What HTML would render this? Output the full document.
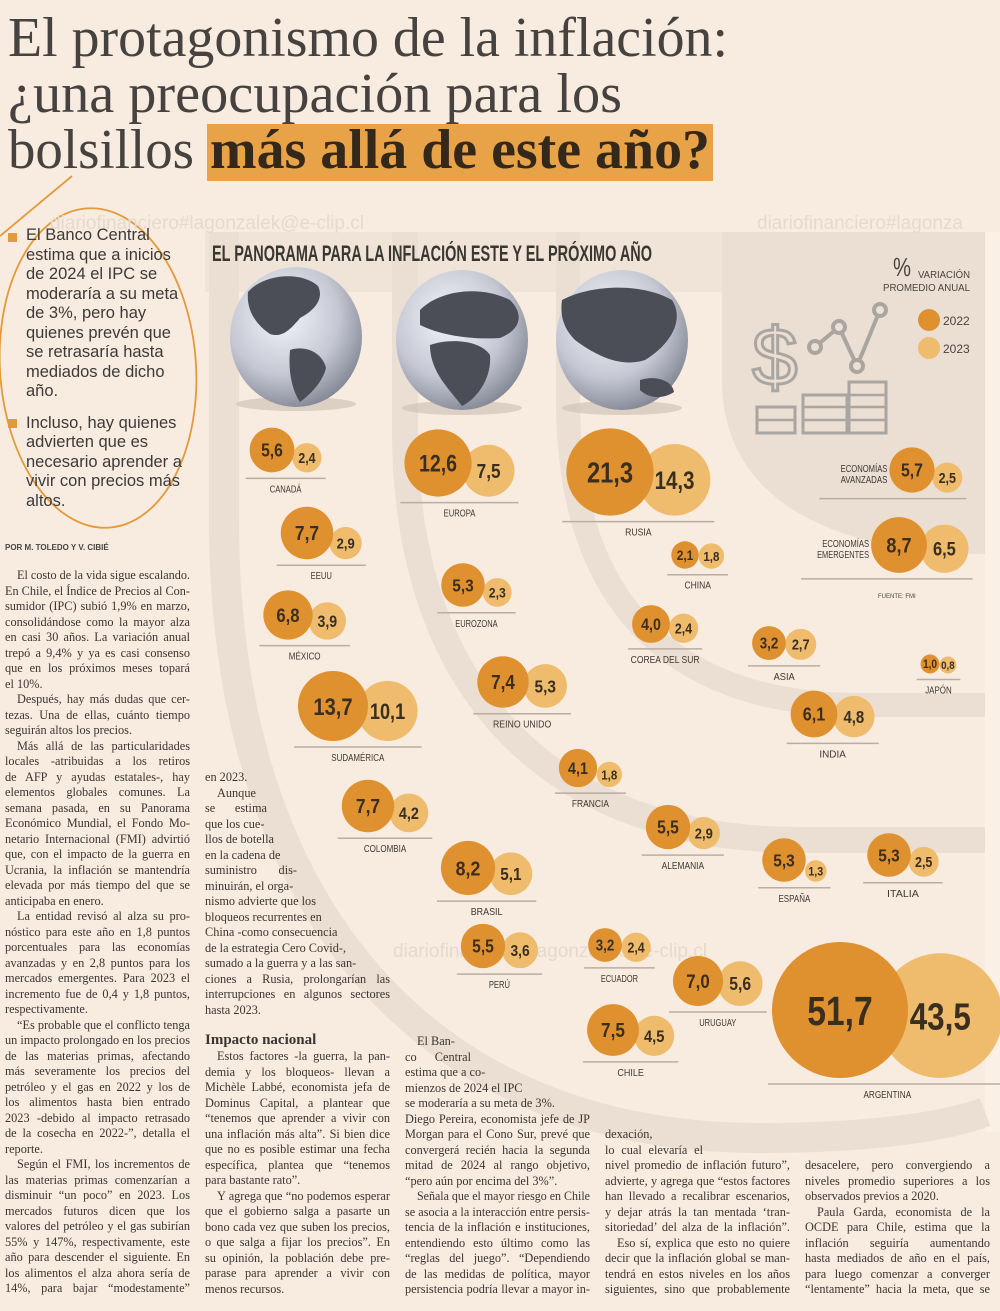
<!DOCTYPE html>
<html><head><meta charset="utf-8">
<style>
html,body{margin:0;padding:0;background:#f8ebe0;}
#page{position:relative;width:1000px;height:1311px;overflow:hidden;background:#f8ebe0;}
svg{position:absolute;left:0;top:0;}
.col{position:absolute;font:12.3px/15.5px "Liberation Serif",serif;color:#3b3632;}
.l{height:15.5px;white-space:nowrap;}
.l span{display:inline-block;transform-origin:0 0;}
.side{position:absolute;left:26px;top:226px;font:16.5px/19.5px "Liberation Sans",sans-serif;color:#3d3a38;}
.side .s{white-space:nowrap;height:19.5px;}
</style></head><body>
<div id="page">
<svg id="chart" width="1000" height="1311" viewBox="0 0 1000 1311">
  <g font-family="Liberation Serif, serif" fill="#45423f">
    <text x="8" y="56" font-size="56" textLength="720" lengthAdjust="spacingAndGlyphs">El protagonismo de la inflación:</text>
    <text x="8" y="112" font-size="56" textLength="614" lengthAdjust="spacingAndGlyphs">¿una preocupación para los</text>
    <text x="8" y="168" font-size="56" textLength="186" lengthAdjust="spacingAndGlyphs">bolsillos</text>
    <rect x="207" y="124" width="506" height="57" fill="#e8a349"/>
    <text x="210" y="168" font-size="56" font-weight="bold" fill="#33281a" textLength="500" lengthAdjust="spacingAndGlyphs">más allá de este año?</text>
  </g>
  <ellipse cx="98" cy="368" rx="98" ry="160" transform="rotate(-4 98 368)" fill="none" stroke="#e39a3a" stroke-width="1.8"/>
  <line x1="72" y1="176" x2="0" y2="236" stroke="#e39a3a" stroke-width="1.8"/>
  <rect x="8" y="233" width="9" height="9" fill="#e39a3a"/>
  <rect x="8" y="419" width="9" height="9" fill="#e39a3a"/>
  <text x="5" y="550" font-family="Liberation Sans, sans-serif" font-size="8" font-weight="bold" fill="#4a4541">POR M. TOLEDO Y V. CIBIÉ</text>

  <g>
    <rect x="205" y="232" width="780" height="60" fill="#f0e4d9"/>
    <rect x="985" y="232" width="15" height="900" fill="#faf0e6"/>
    <path d="M722 232 L722 380 C722 480 800 552 985 554 L985 232 Z" fill="#ebded2"/>
    <path d="M568 232 L568 400 C568 620 690 705 860 705 L985 705" fill="none" stroke="#ebded2" stroke-width="24"/>
    <path d="M405 232 L405 430 C405 700 560 840 800 840 L985 840" fill="none" stroke="#ebded2" stroke-width="26"/>
    <path d="M224 232 L224 520 C224 900 420 1138 760 1138 C880 1138 950 1125 985 1112" fill="none" stroke="#ebded2" stroke-width="30"/>
  </g>
  <g font-family="Liberation Sans, sans-serif" fill="#e6dace" font-size="19">
    <text x="50" y="229">diariofinanciero#lagonzalek@e-clip.cl</text>
    <text x="757" y="229">diariofinanciero#lagonza</text>
    <text x="393" y="957">diariofinanciero#lagonzalek@e-clip.cl</text>
  </g>
  <text x="212" y="261" font-family="Liberation Sans Narrow, Liberation Sans, sans-serif" font-weight="bold" font-size="22" fill="#3a3630" textLength="440" lengthAdjust="spacingAndGlyphs">EL PANORAMA PARA LA INFLACIÓN ESTE Y EL PRÓXIMO AÑO</text>

  <defs>
    <radialGradient id="gl" cx="0.4" cy="0.35" r="0.7">
      <stop offset="0" stop-color="#f4f5fa"/><stop offset="0.6" stop-color="#c5c8d3"/><stop offset="1" stop-color="#7f8391"/>
    </radialGradient>
  </defs>
  <g>
    <ellipse cx="296" cy="404" rx="60" ry="7" fill="#c9bcb0" opacity="0.6"/>
    <ellipse cx="296" cy="337" rx="66" ry="70" fill="url(#gl)"/>
    <path d="M248 292 C262 275 300 270 318 286 C325 300 312 312 300 318 C290 330 282 338 270 334 C258 326 246 312 248 292Z" fill="#4b4e57"/>
    <path d="M290 350 C305 345 322 352 326 368 C322 384 308 396 300 402 C292 390 288 372 290 350Z" fill="#4b4e57"/>
  </g>
  <g>
    <ellipse cx="462" cy="408" rx="60" ry="7" fill="#c9bcb0" opacity="0.6"/>
    <ellipse cx="462" cy="340" rx="66" ry="70" fill="url(#gl)"/>
    <path d="M420 310 C440 290 480 285 510 300 C525 315 520 330 500 338 C470 340 440 335 420 325Z" fill="#4b4e57"/>
    <path d="M430 345 C450 338 480 340 490 355 C492 380 475 400 462 406 C450 390 430 372 430 345Z" fill="#4b4e57"/>
  </g>
  <g>
    <ellipse cx="622" cy="408" rx="60" ry="7" fill="#c9bcb0" opacity="0.6"/>
    <ellipse cx="622" cy="340" rx="66" ry="70" fill="url(#gl)"/>
    <path d="M562 300 C590 285 640 282 672 300 C685 320 670 345 645 360 C620 368 595 355 575 340 C563 328 560 315 562 300Z" fill="#4b4e57"/>
    <path d="M640 380 C655 375 672 380 674 392 C662 400 648 398 640 390Z" fill="#4b4e57"/>
  </g>

  <g font-family="Liberation Sans Narrow, Liberation Sans, sans-serif" fill="#4a4541">
    <text x="893" y="276" font-size="26" textLength="18" lengthAdjust="spacingAndGlyphs">%</text>
    <text x="918" y="278" font-size="10.5" textLength="52" lengthAdjust="spacingAndGlyphs">VARIACIÓN</text>
    <text x="883" y="291" font-size="10.5" textLength="87" lengthAdjust="spacingAndGlyphs">PROMEDIO ANUAL</text>
    <circle cx="929" cy="320" r="11" fill="#e0912f"/>
    <text x="943" y="325" font-size="12">2022</text>
    <circle cx="929" cy="348" r="11" fill="#efbb6c"/>
    <text x="943" y="353" font-size="12">2023</text>
  </g>
  <g fill="none" stroke="#a9a6a2" stroke-width="4">
    <text x="752" y="385" font-family="Liberation Sans, sans-serif" font-size="82" fill="none" stroke="#a9a6a2" stroke-width="3">$</text>
    <polyline points="815,347 839,327 857,366 880,310"/>
    <circle cx="815" cy="347" r="6" fill="#ecdfd3"/><circle cx="839" cy="327" r="6" fill="#ecdfd3"/>
    <circle cx="857" cy="366" r="6" fill="#ecdfd3"/><circle cx="880" cy="310" r="6" fill="#ecdfd3"/>
    <rect x="757" y="407" width="38" height="26" stroke-width="3"/>
    <rect x="803" y="395" width="44" height="38" stroke-width="3"/>
    <rect x="849" y="382" width="37" height="51" stroke-width="3"/>
    <path d="M757 420 H795 M803 407 H847 M803 420 H847 M849 395 H886 M849 407 H886 M849 420 H886" stroke-width="2.5"/>
  </g>
  <text x="878" y="598" font-family="Liberation Sans, sans-serif" font-size="6" fill="#4a4541">FUENTE: FMI</text>
  <g id="bubbles"></g>
</svg>

<div class="side">
  <div class="s">El Banco Central</div><div class="s">estima que a inicios</div><div class="s">de 2024 el IPC se</div><div class="s">moderaría a su meta</div><div class="s">de 3%, pero hay</div><div class="s">quienes prevén que</div><div class="s">se retrasaría hasta</div><div class="s">mediados de dicho</div><div class="s">año.</div>
  <div style="height:12px"></div>
  <div class="s">Incluso, hay quienes</div><div class="s">advierten que es</div><div class="s">necesario aprender a</div><div class="s">vivir con precios más</div><div class="s">altos.</div>
</div>

<div class="col" style="left:5px;top:568px;width:185px">
<div class="l i">El costo de la vida sigue escalando.</div>
<div class="l">En Chile, el Índice de Precios al Con-</div>
<div class="l">sumidor (IPC) subió 1,9% en marzo,</div>
<div class="l">consolidándose como la mayor alza</div>
<div class="l">en casi 30 años. La variación anual</div>
<div class="l">trepó a 9,4% y ya es casi consenso</div>
<div class="l">que en los próximos meses topará</div>
<div class="l e">el 10%.</div>
<div class="l i">Después, hay más dudas que cer-</div>
<div class="l">tezas. Una de ellas, cuánto tiempo</div>
<div class="l e">seguirán altos los precios.</div>
<div class="l i">Más allá de las particularidades</div>
<div class="l">locales -atribuidas a los retiros</div>
<div class="l">de AFP y ayudas estatales-, hay</div>
<div class="l">elementos globales comunes. La</div>
<div class="l">semana pasada, en su Panorama</div>
<div class="l">Económico Mundial, el Fondo Mo-</div>
<div class="l">netario Internacional (FMI) advirtió</div>
<div class="l">que, con el impacto de la guerra en</div>
<div class="l">Ucrania, la inflación se mantendría</div>
<div class="l">elevada por más tiempo del que se</div>
<div class="l e">anticipaba en enero.</div>
<div class="l i">La entidad revisó al alza su pro-</div>
<div class="l">nóstico para este año en 1,8 puntos</div>
<div class="l">porcentuales para las economías</div>
<div class="l">avanzadas y en 2,8 puntos para los</div>
<div class="l">mercados emergentes. Para 2023 el</div>
<div class="l">incremento fue de 0,4 y 1,8 puntos,</div>
<div class="l e">respectivamente.</div>
<div class="l i">“Es probable que el conflicto tenga</div>
<div class="l">un impacto prolongado en los precios</div>
<div class="l">de las materias primas, afectando</div>
<div class="l">más severamente los precios del</div>
<div class="l">petróleo y el gas en 2022 y los de</div>
<div class="l">los alimentos hasta bien entrado</div>
<div class="l">2023 -debido al impacto retrasado</div>
<div class="l">de la cosecha en 2022-”, detalla el</div>
<div class="l e">reporte.</div>
<div class="l i">Según el FMI, los incrementos de</div>
<div class="l">las materias primas comenzarían a</div>
<div class="l">disminuir “un poco” en 2023. Los</div>
<div class="l">mercados futuros dicen que los</div>
<div class="l">valores del petróleo y el gas subirían</div>
<div class="l">55% y 147%, respectivamente, este</div>
<div class="l">año para descender el siguiente. En</div>
<div class="l">los alimentos el alza ahora sería de</div>
<div class="l">14%, para bajar “modestamente”</div>
</div>

<div class="col" style="left:205px;top:770px;width:185px">
<div class="l e">en 2023.</div>
<div class="l e i">Aunque</div>
<div class="l" style="width:62px">se estima</div>
<div class="l e">que los cue-</div>
<div class="l e">llos de botella</div>
<div class="l e">en la cadena de</div>
<div class="l" style="width:92px">suministro dis-</div>
<div class="l e">minuirán, el orga-</div>
<div class="l e">nismo advierte que los</div>
<div class="l e">bloqueos recurrentes en</div>
<div class="l e">China -como consecuencia</div>
<div class="l e">de la estrategia Cero Covid-,</div>
<div class="l e">sumado a la guerra y a las san-</div>
<div class="l">ciones a Rusia, prolongarían las</div>
<div class="l">interrupciones en algunos sectores</div>
<div class="l e">hasta 2023.</div>
<div style="height:14px"></div>
<div style="font:bold 15px/17px 'Liberation Serif',serif;height:17px">Impacto nacional</div>
<div class="l i">Estos factores -la guerra, la pan-</div>
<div class="l">demia y los bloqueos- llevan a</div>
<div class="l">Michèle Labbé, economista jefa de</div>
<div class="l">Dominus Capital, a plantear que</div>
<div class="l">“tenemos que aprender a vivir con</div>
<div class="l">una inflación más alta”. Si bien dice</div>
<div class="l">que no es posible estimar una fecha</div>
<div class="l">específica, plantea que “tenemos</div>
<div class="l e">para bastante rato”.</div>
<div class="l i">Y agrega que “no podemos esperar</div>
<div class="l">que el gobierno salga a pasarte un</div>
<div class="l">bono cada vez que suben los precios,</div>
<div class="l">o que salga a fijar los precios”. En</div>
<div class="l">su opinión, la población debe pre-</div>
<div class="l">parase para aprender a vivir con</div>
<div class="l e">menos recursos.</div>
</div>

<div class="col" style="left:405px;top:1034px;width:185px">
<div class="l e i">El Ban-</div>
<div class="l" style="width:66px">co Central</div>
<div class="l e">estima que a co-</div>
<div class="l e">mienzos de 2024 el IPC</div>
<div class="l e">se moderaría a su meta de 3%.</div>
<div class="l">Diego Pereira, economista jefe de JP</div>
<div class="l">Morgan para el Cono Sur, prevé que</div>
<div class="l">convergerá recién hacia la segunda</div>
<div class="l">mitad de 2024 al rango objetivo,</div>
<div class="l e">“pero aún por encima del 3%”.</div>
<div class="l i">Señala que el mayor riesgo en Chile</div>
<div class="l">se asocia a la interacción entre persis-</div>
<div class="l">tencia de la inflación e instituciones,</div>
<div class="l">entendiendo esto último como las</div>
<div class="l">“reglas del juego”. “Dependiendo</div>
<div class="l">de las medidas de política, mayor</div>
<div class="l">persistencia podría llevar a mayor in-</div>
</div>

<div class="col" style="left:605px;top:1127px;width:185px">
<div class="l e">dexación,</div>
<div class="l" style="width:98px">lo cual elevaría el</div>
<div class="l">nivel promedio de inflación futuro”,</div>
<div class="l">advierte, y agrega que “estos factores</div>
<div class="l">han llevado a recalibrar escenarios,</div>
<div class="l">y dejar atrás la tan mentada ‘tran-</div>
<div class="l">sitoriedad’ del alza de la inflación”.</div>
<div class="l i">Eso sí, explica que esto no quiere</div>
<div class="l">decir que la inflación global se man-</div>
<div class="l">tendrá en estos niveles en los años</div>
<div class="l">siguientes, sino que probablemente</div>
</div>

<div class="col" style="left:805px;top:1158px;width:185px">
<div class="l">desacelere, pero convergiendo a</div>
<div class="l">niveles promedio superiores a los</div>
<div class="l e">observados previos a 2020.</div>
<div class="l i">Paula Garda, economista de la</div>
<div class="l">OCDE para Chile, estima que la</div>
<div class="l">inflación seguiría aumentando</div>
<div class="l">hasta mediados de año en el país,</div>
<div class="l">para luego comenzar a converger</div>
<div class="l">“lentamente” hacia la meta, que se</div>
</div>
</div>

<script>
const regions = ["CANADÁ","EUROPA","RUSIA","EEUU","CHINA","EUROZONA","MÉXICO","COREA DEL SUR","ASIA","JAPÓN","REINO UNIDO","SUDAMÉRICA","INDIA","FRANCIA","COLOMBIA","ALEMANIA","ESPAÑA","ITALIA","BRASIL","PERÚ","ECUADOR","URUGUAY","CHILE","ARGENTINA","ECONOMÍAS AVANZADAS","ECONOMÍAS EMERGENTES"];
const infl2022 = [5.6,12.6,21.3,7.7,2.1,5.3,6.8,4.0,3.2,1.0,7.4,13.7,6.1,4.1,7.7,5.5,5.3,5.3,8.2,5.5,3.2,7.0,7.5,51.7,5.7,8.7];
const infl2023 = [2.4,7.5,14.3,2.9,1.8,2.3,3.9,2.4,2.7,0.8,5.3,10.1,4.8,1.8,4.2,2.9,1.3,2.5,5.1,3.6,2.4,5.6,4.5,43.5,2.5,6.5];
const anchorX = [272,438,610,307,685,463,288,651,769,930,503,333,814,578,368,668,784,889,468,483,605,698,613,840,912,899];
const anchorY = [450,463,472,533,555,585,615,624,643,664,682,706,714,768,806,827,860,855,868,946,945,981,1030,1010,470,545];

const NS = "http://www.w3.org/2000/svg";
const maxV = 51.7, maxR = 68;
function rScale(v){ return maxR*Math.sqrt(v/maxV); }
function fmt(v){ return v.toFixed(1).replace('.', ','); }
const g = document.getElementById('bubbles');
function mk(tag, attrs, parent){ const e=document.createElementNS(NS,tag); for(const k in attrs) e.setAttribute(k,attrs[k]); (parent||g).appendChild(e); return e; }

regions.forEach((name,i)=>{
  const r1 = rScale(infl2022[i]), r2 = rScale(infl2023[i]);
  const x1 = anchorX[i], y1 = anchorY[i];
  const bottom = y1 + r1;
  const x2 = x1 + r1 + r2 - Math.max(0, 0.3*(r1+r2) - 9);
  const y2 = bottom - r2;
  const grp = mk('g',{});
  
  
  const c2 = mk('circle',{cx:x2,cy:y2,r:r2,fill:'#efbb6c'},grp);
  
  
  const c1 = mk('circle',{cx:x1,cy:y1,r:r1,fill:'#e0912f'},grp);
  
  
  [[x1,y1,r1,infl2022[i]],[x2,y2,r2,infl2023[i]]].forEach(([x,y,r,v])=>{
    const fs = 0.5*r + 7, s = fmt(v);
    const t = mk('text',{x:x, y:y+fs*0.36, 'text-anchor':'middle', 'font-family':'Liberation Sans Narrow, Liberation Sans, sans-serif', 'font-weight':'bold', 'font-size':fs, fill:'#3a2e1f', textLength:fs*0.4*s.length, lengthAdjust:'spacingAndGlyphs'},grp);
    t.textContent = s;
    
    
  });
  const econ = name.startsWith('ECONOM');
  const lx1 = econ ? x1 - r1 - 70 : x1 - r1 - 4, lx2 = x2 + r2 + 4;
  const ln = mk('line',{x1:lx1,y1:bottom+6,x2:lx2,y2:bottom+6,stroke:'#b8aea5','stroke-width':1.5},grp);
  
  
  if(econ){
    const parts = name.split(' ');
    parts.forEach((p,k)=>{
      const t = mk('text',{x:x1-r1-2, y:y1+2+k*11, 'text-anchor':'end','font-family':'Liberation Sans Narrow, Liberation Sans, sans-serif','font-size':10.5, fill:'#3f3a35', textLength:p.length*5.2, lengthAdjust:'spacingAndGlyphs'},grp);
      t.textContent = p;
      
      
    });
  } else {
    const t = mk('text',{x:(x1-r1+x2+r2)/2, y:bottom+20, 'text-anchor':'middle','font-family':'Liberation Sans Narrow, Liberation Sans, sans-serif','font-size':10.5, fill:'#3f3a35', textLength:name.length*5.3, lengthAdjust:'spacingAndGlyphs'},grp);
    t.textContent = name;
    
    
  }
});

document.querySelectorAll('.l').forEach(el=>{
  const txt = el.textContent;
  el.textContent = '';
  const sp = document.createElement('span');
  sp.textContent = txt;
  el.appendChild(sp);
  const indent = el.classList.contains('i') ? 12 : 0;
  sp.style.marginLeft = indent + 'px';
  const W = el.clientWidth - indent;
  const w = sp.getBoundingClientRect().width;
  const justify = !el.classList.contains('e');
  if (w > W) { sp.style.transform = 'scaleX(' + (W/w) + ')'; }
  else if (justify) {
    const n = (txt.match(/ /g)||[]).length;
    if (n>0) sp.style.wordSpacing = ((W-w)/n) + 'px';
  }
});
document.querySelectorAll('.side .s').forEach(el=>{
  const txt = el.textContent; el.textContent='';
  const sp=document.createElement('span'); sp.style.display='inline-block'; sp.style.transformOrigin='0 0';
  sp.textContent=txt; el.appendChild(sp);
  const w = sp.getBoundingClientRect().width;
  if (w > 158) sp.style.transform='scaleX(' + (158/w) + ')';
});
</script>
</body></html>
